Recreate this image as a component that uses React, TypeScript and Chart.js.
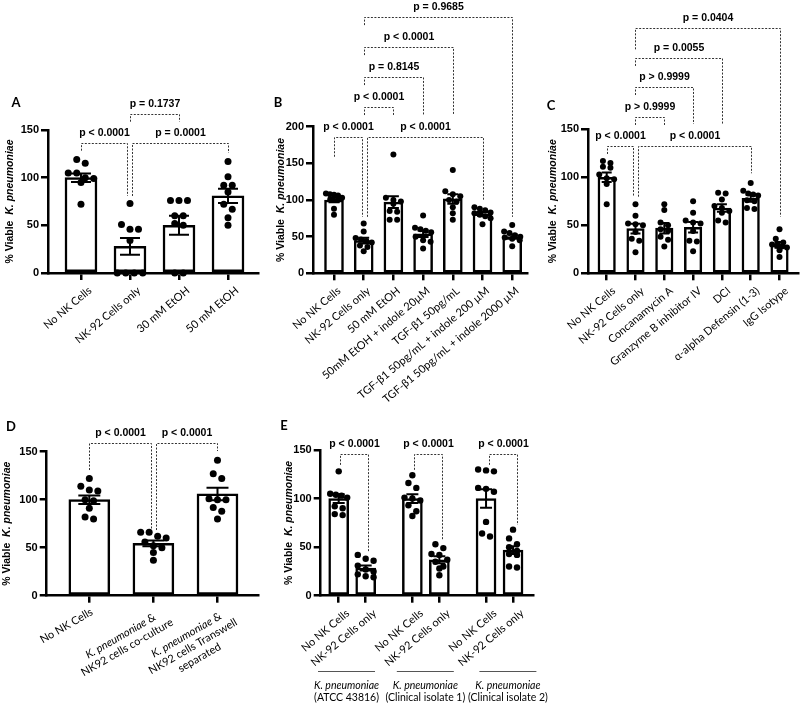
import React, { useEffect, useRef } from 'react';
import { Chart, registerables } from 'chart.js';

Chart.register(...registerables);

// ================= DATA =================
// Panel A
const aCategories = ['No NK Cells', 'NK-92 Cells only', '30 mM EtOH', '50 mM EtOH'];
const aMeans = [100, 28, 50, 81];
const aSems = [4.5, 8.8, 10, 7.5];
const aPoints = [
  [119, 115, 105, 105, 100, 99, 95, 72],
  [73, 51, 46, 46, 34, 0, 0, 0, 0],
  [76, 76, 76, 60, 60, 52, 50, 0, 0],
  [117, 101, 92, 92, 85, 72, 67, 58, 50],
];
const aPValues = ['p < 0.0001', 'p = 0.0001', 'p = 0.1737'];

// Panel B
const bCategories = [
  'No NK Cells',
  'NK-92 Cells only',
  '50 mM EtOH',
  '50mM EtOH + indole 20µM',
  'TGF-β1 50pg/mL',
  'TGF-β1 50pg/mL + indole 200 µM',
  'TGF-β1 50pg/mL + indole 2000 µM',
];
const bMeans = [100, 44.5, 97, 54, 101.5, 81, 50];
const bSems = [3, 4, 8, 4.5, 6.5, 2.5, 3];
const bPoints = [
  [109, 108, 107, 106, 103, 101, 100, 88, 80],
  [68, 57, 48, 46, 44, 42, 38, 36, 30],
  [162, 103, 100, 98, 95, 85, 84, 73, 73],
  [79, 62, 60, 58, 56, 50, 45, 43, 34],
  [141, 112, 108, 105, 100, 98, 90, 82, 73],
  [90, 88, 86, 83, 82, 80, 78, 75, 67],
  [66, 57, 55, 52, 50, 49, 47, 45, 37],
];
const bPValues = ['p < 0.0001', 'p < 0.0001', 'p < 0.0001', 'p = 0.8145', 'p < 0.0001', 'p = 0.9685'];

// Panel C
const cCategories = [
  'No NK Cells',
  'NK-92 Cells only',
  'Concanamycin A',
  'Granzyme B inhibitor IV',
  'DCI',
  'α-alpha Defensin (1-3)',
  'IgG Isotype',
];
const cMeans = [100, 46.5, 47, 48, 68, 78, 29.5];
const cSems = [5, 5, 5.5, 5.5, 4, 3.5, 3];
const cPoints = [
  [117, 115, 111, 110, 103, 99, 98, 93, 72],
  [72, 60, 52, 51, 50, 43, 36, 34, 22],
  [72, 66, 53, 50, 46, 44, 38, 35, 28],
  [75, 63, 55, 53, 52, 44, 34, 33, 23],
  [84, 83, 77, 70, 68, 65, 63, 55, 53],
  [94, 86, 83, 82, 81, 76, 75, 68, 67],
  [46, 36, 32, 30, 29, 28, 27, 24, 17],
];
const cPValues = ['p < 0.0001', 'p < 0.0001', 'p > 0.9999', 'p > 0.9999', 'p = 0.0055', 'p = 0.0404'];

// Panel D
const dCategoryLines = [
  ['No NK Cells'],
  ['K. pneumoniae &', 'NK92 cells co-culture'],
  ['K. pneumoniae &', 'NK92 cells Transwell', 'separated'],
];
const dMeans = [100, 54.5, 106];
const dSems = [4.5, 3, 6.5];
const dPoints = [
  [122, 114, 110, 109, 100, 99, 91, 82, 80],
  [66, 66, 62, 60, 56, 52, 50, 45, 37],
  [141, 127, 122, 101, 100, 100, 92, 88, 80],
];
const dPValues = ['p < 0.0001', 'p < 0.0001'];

// Panel E
const eCategories = ['No NK Cells', 'NK-92 Cells only', 'No NK Cells', 'NK-92 Cells only', 'No NK Cells', 'NK-92 Cells only'];
const eGroupLabels = [
  ['K. pneumoniae', '(ATCC 43816)'],
  ['K. pneumoniae', '(Clinical isolate 1)'],
  ['K. pneumoniae', '(Clinical isolate 2)'],
];
const eMeans = [100, 28.5, 100, 37, 100, 47];
const eSems = [4.5, 2.5, 4.5, 3.5, 9.5, 4];
const ePoints = [
  [128, 105, 104, 103, 101, 92, 90, 84, 83],
  [42, 38, 36, 31, 27, 25, 22, 20, 19],
  [124, 116, 111, 101, 100, 98, 93, 87, 82],
  [53, 49, 43, 42, 37, 35, 30, 28, 21],
  [130, 129, 128, 111, 110, 107, 76, 64, 61],
  [68, 59, 53, 50, 46, 43, 42, 30, 29],
];
const ePValues = ['p < 0.0001', 'p < 0.0001', 'p < 0.0001'];

const yTitle = '% Viable  K. pneumoniae';

// ================= HELPERS =================
const SANS = '"Liberation Sans", Arial, sans-serif';
const LABEL = 'Lato, "Open Sans", sans-serif';
const ITALIC_TERM = 'K. pneumoniae';

type Seg = { t: string; i?: boolean };
function toSegs(line: string): Seg[] {
  const out: Seg[] = [];
  let rest = line;
  while (rest.length) {
    const k = rest.indexOf(ITALIC_TERM);
    if (k < 0) { out.push({ t: rest }); break; }
    if (k > 0) out.push({ t: rest.slice(0, k) });
    out.push({ t: ITALIC_TERM, i: true });
    rest = rest.slice(k + ITALIC_TERM.length);
  }
  return out;
}
function segFont(s: Seg, size: number, bold: boolean, family: string) {
  return `${s.i ? 'italic ' : ''}${bold ? 'bold ' : ''}${size}px ${family}`;
}
function richWidth(ctx: CanvasRenderingContext2D, segs: Seg[], size: number, bold: boolean, family: string) {
  let w = 0;
  segs.forEach((s) => { ctx.font = segFont(s, size, bold, family); w += ctx.measureText(s.t).width; });
  return w;
}
function drawRich(ctx: CanvasRenderingContext2D, segs: Seg[], x: number, y: number, size: number, bold: boolean, family: string, align: 'left' | 'center' | 'right') {
  const total = richWidth(ctx, segs, size, bold, family);
  let start = align === 'center' ? x - total / 2 : align === 'right' ? x - total : x;
  ctx.textAlign = 'left';
  ctx.textBaseline = 'middle';
  segs.forEach((s) => {
    ctx.font = segFont(s, size, bold, family);
    ctx.fillText(s.t, start, y);
    start += ctx.measureText(s.t).width;
  });
}

// simple row-based beeswarm for dot layout (pixel offsets)
function swarmOffsets(vals: number[], yPx: number, r: number, maxSpread: number): number[] {
  const d = 2 * r + 1.5;
  const idx = vals.map((_, i) => i).sort((a, b) => vals[b] - vals[a]);
  const out = new Array(vals.length).fill(0);
  let i = 0;
  while (i < idx.length) {
    const row = [idx[i]];
    const y0 = vals[idx[i]] * yPx;
    let j = i + 1;
    while (j < idx.length && y0 - vals[idx[j]] * yPx < d * 0.75) { row.push(idx[j]); j++; }
    const n = row.length;
    const step = n > 1 ? Math.min(d, maxSpread / (n - 1)) : 0;
    row.forEach((id, k) => { out[id] = (k - (n - 1) / 2) * step; });
    i = j;
  }
  return out;
}

type Comparison = { a: number; b: number; p: string; level: number; endA: number; endB: number; dxA?: number; dxB?: number };

type Panel = {
  key: string; letter: string;
  left: number; top: number; width: number; height: number;
  plotLeft: number; plotTop: number; plotBottom: number; plotRight: number; xAxisH: number;
  xs: number[]; xMin: number; xMax: number;
  labels: string[] | null; labelDx: number;
  means: number[]; sems: number[]; points: number[][]; comparisons: Comparison[];
  yMax: number; yStep: number; barW: number; r: number; capW: number;
  titleX: number; letterX: number; letterY: number;
  customLines?: string[][];
  groups?: { labels: string[][]; centers: number[]; lineY: number; halfLen: number };
};

// ================= PANELS =================
const panels: Panel[] = [
  {
    key: 'A', letter: 'A', left: 0, top: 60, width: 272, height: 345,
    plotLeft: 48, plotTop: 70, plotBottom: 213, plotRight: 258, xAxisH: 100,
    xs: [0, 1, 2, 3], xMin: -0.673, xMax: 3.612,
    labels: aCategories, labelDx: 5,
    means: aMeans, sems: aSems, points: aPoints,
    comparisons: [
      { a: 0, b: 1, p: aPValues[0], level: 136.7, endA: 128.3, endB: 80.8, dxB: -2.5 },
      { a: 1, b: 3, p: aPValues[1], level: 136.7, endA: 80.8, endB: 125.9, dxA: 2.5 },
      { a: 1, b: 2, p: aPValues[2], level: 166.8, endA: 158.7, endB: 158.7 },
    ],
    yMax: 150, yStep: 50, barW: 32, r: 3.5, capW: 20,
    titleX: 10, letterX: 16, letterY: 43,
  },
  {
    key: 'B', letter: 'B', left: 260, top: 0, width: 280, height: 410,
    plotLeft: 53, plotTop: 126.7, plotBottom: 273.3, plotRight: 267, xAxisH: 110,
    xs: [0, 1, 2, 3, 4, 5, 6], xMin: -0.707, xMax: 6.498,
    labels: bCategories, labelDx: 1,
    means: bMeans, sems: bSems, points: bPoints,
    comparisons: [
      { a: 0, b: 1, p: bPValues[0], level: 186.3, endA: 159, endB: 77, dxB: -2 },
      { a: 1, b: 5, p: bPValues[1], level: 186.3, endA: 77, endB: 100, dxA: 3 },
      { a: 1, b: 2, p: bPValues[2], level: 227.2, endA: 215.9, endB: 215.9 },
      { a: 1, b: 3, p: bPValues[3], level: 267.3, endA: 256.8, endB: 215.9 },
      { a: 1, b: 4, p: bPValues[4], level: 309, endA: 297.7, endB: 215.9 },
      { a: 1, b: 6, p: bPValues[5], level: 350, endA: 338.6, endB: 77 },
    ],
    yMax: 200, yStep: 50, barW: 19, r: 3, capW: 11,
    titleX: 21, letterX: 18, letterY: 103,
  },
  {
    key: 'C', letter: 'C', left: 530, top: 0, width: 280, height: 410,
    plotLeft: 58, plotTop: 129.3, plotBottom: 273.3, plotRight: 268, xAxisH: 110,
    xs: [0, 1, 2, 3, 4, 5, 6], xMin: -0.649, xMax: 6.642,
    labels: cCategories, labelDx: 3,
    means: cMeans, sems: cSems, points: cPoints,
    comparisons: [
      { a: 0, b: 1, p: cPValues[0], level: 132.6, endA: 124.3, endB: 79.8, dxB: -2 },
      { a: 1, b: 5, p: cPValues[1], level: 132.6, endA: 79.8, endB: 104.2, dxA: 2.5 },
      { a: 1, b: 2, p: cPValues[2], level: 163.1, endA: 154.5, endB: 154.5 },
      { a: 1, b: 3, p: cPValues[3], level: 193.75, endA: 185.7, endB: 155.5 },
      { a: 1, b: 4, p: cPValues[4], level: 224.6, endA: 216, endB: 155.5 },
      { a: 1, b: 6, p: cPValues[5], level: 255.2, endA: 233.3, endB: 59 },
    ],
    yMax: 150, yStep: 50, barW: 17.5, r: 3, capW: 10,
    titleX: 23, letterX: 21, letterY: 106,
  },
  {
    key: 'D', letter: 'D', left: 0, top: 400, width: 268, height: 305,
    plotLeft: 46.7, plotTop: 51.7, plotBottom: 195.7, plotRight: 258, xAxisH: 80,
    xs: [0, 1, 2], xMin: -0.665, xMax: 2.632,
    labels: null, labelDx: 0,
    means: dMeans, sems: dSems, points: dPoints,
    comparisons: [
      { a: 0, b: 1, p: dPValues[0], level: 158.75, endA: 130.9, endB: 68.4, dxB: -2.5 },
      { a: 1, b: 2, p: dPValues[1], level: 158.75, endA: 68.4, endB: 150.7, dxA: 2.5 },
    ],
    yMax: 150, yStep: 50, barW: 41, r: 3.5, capW: 22,
    titleX: 7, letterX: 11, letterY: 27,
    customLines: dCategoryLines,
  },
  {
    key: 'E', letter: 'E', left: 260, top: 400, width: 305, height: 305,
    plotLeft: 60.7, plotTop: 50, plotBottom: 195.7, plotRight: 273, xAxisH: 80,
    xs: [0, 1, 2.73, 3.73, 5.46, 6.46], xMin: -0.667, xMax: 7.2,
    labels: eCategories, labelDx: 5,
    means: eMeans, sems: eSems, points: ePoints,
    comparisons: [
      { a: 0, b: 1, p: ePValues[0], level: 146, endA: 134.7, endB: 45.4, dxA: 1.5, dxB: 2.5 },
      { a: 2, b: 3, p: ePValues[1], level: 146, endA: 129.6, endB: 57.4, dxA: 2, dxB: 3 },
      { a: 4, b: 5, p: ePValues[2], level: 146, endA: 134.7, endB: 72.9, dxA: 3, dxB: 4 },
    ],
    yMax: 150, yStep: 50, barW: 20, r: 3.2, capW: 12,
    titleX: 29, letterX: 24, letterY: 26,
    groups: { labels: eGroupLabels, centers: [0.29, 3.21, 6.27], lineY: 271, halfLen: 28.5 },
  },
];

// ================= CHART =================
function buildChart(canvas: HTMLCanvasElement, p: Panel) {
  const xPx = (p.plotRight - p.plotLeft) / (p.xMax - p.xMin);
  const yPx = (p.plotBottom - p.plotTop) / p.yMax;
  const scatterData: { x: number; y: number }[] = [];
  p.points.forEach((vals, i) => {
    const offs = swarmOffsets(vals, yPx, p.r, p.barW * 0.85);
    vals.forEach((v, k) => scatterData.push({ x: p.xs[i] + offs[k] / xPx, y: v }));
  });

  const deco = {
    id: 'deco' + p.key,
    afterDatasetDraw(chart: any, args: any) {
      if (args.index !== 0) return;
      const ctx = chart.ctx;
      const xs = chart.scales.x, ys = chart.scales.y;
      ctx.save();
      ctx.strokeStyle = '#000';
      ctx.lineWidth = 2;
      p.means.forEach((m, i) => {
        const x = xs.getPixelForValue(p.xs[i]);
        const yt = ys.getPixelForValue(m + p.sems[i]);
        const yb = ys.getPixelForValue(Math.max(0, m - p.sems[i]));
        ctx.beginPath();
        ctx.moveTo(x, yt); ctx.lineTo(x, yb);
        ctx.moveTo(x - p.capW / 2, yt); ctx.lineTo(x + p.capW / 2, yt);
        ctx.moveTo(x - p.capW / 2, yb); ctx.lineTo(x + p.capW / 2, yb);
        ctx.stroke();
      });
      ctx.restore();
    },
    afterDraw(chart: any) {
      const ctx = chart.ctx as CanvasRenderingContext2D;
      const xs = chart.scales.x, ys = chart.scales.y;
      const ca = chart.chartArea;
      ctx.save();
      // significance brackets
      p.comparisons.forEach((c) => {
        const xa = Math.round(xs.getPixelForValue(p.xs[c.a]) + (c.dxA || 0)) + 0.5;
        const xb = Math.round(xs.getPixelForValue(p.xs[c.b]) + (c.dxB || 0)) + 0.5;
        const yl = Math.round(ys.getPixelForValue(c.level)) + 0.5;
        const ya = ys.getPixelForValue(c.endA);
        const yb = ys.getPixelForValue(c.endB);
        ctx.beginPath();
        ctx.setLineDash([2, 1.5]);
        ctx.lineWidth = 1;
        ctx.strokeStyle = '#333';
        ctx.moveTo(xa, ya); ctx.lineTo(xa, yl); ctx.lineTo(xb, yl); ctx.lineTo(xb, yb);
        ctx.stroke();
        ctx.setLineDash([]);
        ctx.fillStyle = '#000';
        ctx.font = `bold 10.5px ${SANS}`;
        ctx.textAlign = 'center';
        ctx.textBaseline = 'middle';
        ctx.fillText(c.p, (xa + xb) / 2, yl - 10.5);
      });
      // y-axis title
      ctx.fillStyle = '#000';
      ctx.save();
      ctx.translate(p.titleX, (ca.top + ca.bottom) / 2);
      ctx.rotate(-Math.PI / 2);
      drawRich(ctx, toSegs(yTitle), 0, 0, 10.5, true, SANS, 'center');
      ctx.restore();
      // panel letter
      ctx.font = `bold 13px ${LABEL}`;
      ctx.textAlign = 'center';
      ctx.textBaseline = 'middle';
      ctx.fillText(p.letter, p.letterX, p.letterY);
      // rotated category labels (40 degrees, right end at tick)
      if (p.labels) {
        const ang = (40 * Math.PI) / 180;
        ctx.font = `11px ${LABEL}`;
        p.labels.forEach((lab, i) => {
          const tx = xs.getPixelForValue(p.xs[i]) + p.labelDx;
          const ty = ca.bottom + 7 + 4;
          ctx.save();
          ctx.translate(tx, ty);
          ctx.rotate(-ang);
          ctx.textAlign = 'right';
          ctx.textBaseline = 'middle';
          ctx.fillText(lab, 0, 6.5);
          ctx.restore();
        });
      }
      // custom multi-line rotated labels (panel D)
      if (p.customLines) {
        const ang = (30 * Math.PI) / 180;
        p.customLines.forEach((lines, i) => {
          const tx = xs.getPixelForValue(p.xs[i]);
          const ty = ca.bottom + 7;
          const segsList = lines.map(toSegs);
          const widths = segsList.map((s) => richWidth(ctx, s, 11, false, LABEL));
          const maxW = Math.max(...widths);
          const uRight = lines.length > 1 ? 7 : -2;
          const nTop = lines.length > 1 ? 6 : 2;
          ctx.save();
          ctx.translate(tx, ty);
          ctx.rotate(-ang);
          segsList.forEach((segs, k) => {
            drawRich(ctx, segs, uRight - maxW / 2, nTop + 6.5 + 13 * k, 11, false, LABEL, 'center');
          });
          ctx.restore();
        });
      }
      // group labels (panel E)
      if (p.groups) {
        const g = p.groups;
        g.centers.forEach((cx, k) => {
          const x = xs.getPixelForValue(cx);
          ctx.beginPath();
          ctx.lineWidth = 1;
          ctx.strokeStyle = '#555';
          ctx.moveTo(x - g.halfLen, g.lineY + 0.5);
          ctx.lineTo(x + g.halfLen, g.lineY + 0.5);
          ctx.stroke();
          ctx.fillStyle = '#000';
          g.labels[k].forEach((line, j) => {
            drawRich(ctx, toSegs(line), x, g.lineY + 15 + 12 * j, 10.5, false, LABEL, 'center');
          });
        });
      }
      ctx.restore();
    },
  };

  return new Chart(canvas, {
    type: 'bar',
    data: {
      datasets: [
        {
          type: 'bar',
          data: p.means.map((m, i) => ({ x: p.xs[i], y: m })),
          backgroundColor: '#ffffff',
          borderColor: '#000000',
          borderWidth: 2.5,
          borderSkipped: false,
          barThickness: p.barW,
          order: 2,
        } as any,
        {
          type: 'scatter',
          data: scatterData,
          pointRadius: p.r,
          pointBackgroundColor: '#000',
          pointBorderWidth: 0,
          backgroundColor: '#000',
          borderWidth: 0,
          clip: false,
          order: 1,
        } as any,
      ],
    },
    options: {
      responsive: false,
      animation: false,
      devicePixelRatio: 1,
      events: [],
      layout: {
        padding: {
          left: 0,
          top: p.plotTop,
          right: p.width - p.plotRight,
          bottom: p.height - p.plotBottom - p.xAxisH,
        },
      },
      plugins: { legend: { display: false }, tooltip: { enabled: false }, title: { display: false } },
      scales: {
        x: {
          type: 'linear',
          min: p.xMin,
          max: p.xMax,
          offset: false,
          afterFit: (s: any) => { s.height = p.xAxisH; },
          afterBuildTicks: (s: any) => { s.ticks = p.xs.map((v) => ({ value: v })); },
          grid: {
            display: true, drawOnChartArea: false, drawTicks: true, offset: false,
            tickLength: 7, lineWidth: 2.5, tickWidth: 2.5, color: '#000', tickColor: '#000',
          },
          border: { display: true, color: '#000', width: 2.5 },
          ticks: {
            autoSkip: false,
            maxRotation: 0,
            minRotation: 0,
            padding: 4,
            color: '#000',
            font: { family: LABEL, size: 11 },
            callback: () => '',
          },
        },
        y: {
          type: 'linear',
          min: 0,
          max: p.yMax,
          afterFit: (s: any) => { s.width = p.plotLeft; },
          grid: {
            display: true, drawOnChartArea: false, drawTicks: true,
            tickLength: 7, lineWidth: 2.5, tickWidth: 2.5, color: '#000', tickColor: '#000',
          },
          border: { display: true, color: '#000', width: 2.5 },
          ticks: {
            stepSize: p.yStep,
            padding: 2,
            color: '#000',
            font: { family: SANS, size: 11, weight: 'bold' },
          },
        },
      },
    } as any,
    plugins: [deco],
  });
}

function PanelChart({ panel }: { panel: Panel }) {
  const ref = useRef<HTMLCanvasElement>(null);
  useEffect(() => {
    const chart = buildChart(ref.current as HTMLCanvasElement, panel);
    return () => chart.destroy();
  }, [panel]);
  return (
    <canvas
      ref={ref}
      width={panel.width}
      height={panel.height}
      style={{ position: 'absolute', left: panel.left, top: panel.top, width: panel.width, height: panel.height }}
    />
  );
}

export default function App() {
  return (
    <div style={{ position: 'fixed', left: 0, top: 0, width: 800, height: 705, overflow: 'hidden', background: '#fff' }}>
      {panels.map((p) => (
        <PanelChart key={p.key} panel={p} />
      ))}
    </div>
  );
}
